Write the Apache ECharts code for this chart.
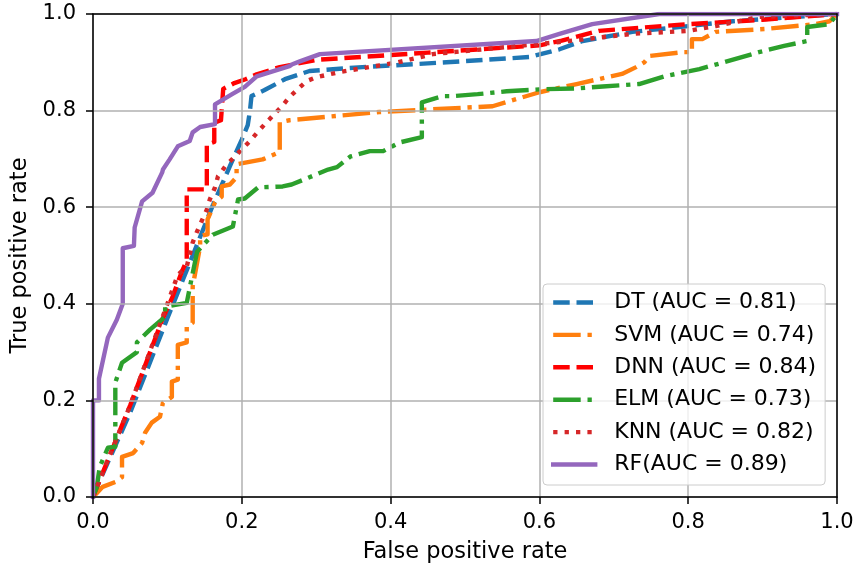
<!DOCTYPE html>
<html><head><meta charset="utf-8">
<script src="https://cdn.jsdelivr.net/npm/echarts@6/dist/echarts.min.js"></script>
<style>html,body{margin:0;padding:0;background:#fff}#c{width:857px;height:567px}</style>
</head><body><div id="c"></div><script>
// ---- data (fpr, tpr) ----
const names = ['DT (AUC = 0.81)', 'SVM (AUC = 0.74)', 'DNN (AUC = 0.84)', 'ELM (AUC = 0.73)', 'KNN (AUC = 0.82)', 'RF(AUC = 0.89)'];
const tickValues = [0, 0.2, 0.4, 0.6, 0.8, 1.0];
const tickLabels = ['0.0', '0.2', '0.4', '0.6', '0.8', '1.0'];
const xAxisName = 'False positive rate';
const yAxisName = 'True positive rate';

const dt = [[0,0],[0.005,0.02],[0.05,0.175],[0.1,0.37],[0.134,0.5],[0.16,0.6],[0.184,0.685],[0.2,0.74],[0.208,0.77],[0.211,0.8],[0.213,0.83],[0.23,0.842],[0.258,0.865],[0.291,0.882],[0.362,0.89],[0.475,0.9],[0.587,0.911],[0.627,0.927],[0.658,0.944],[0.725,0.963],[0.8,0.975],[0.86,0.985],[1,1]];
const svm = [[0,0],[0.005,0.008],[0.013,0.021],[0.03,0.031],[0.039,0.041],[0.039,0.083],[0.054,0.091],[0.066,0.112],[0.07,0.133],[0.079,0.154],[0.09,0.166],[0.094,0.195],[0.106,0.207],[0.106,0.239],[0.114,0.243],[0.114,0.315],[0.126,0.32],[0.126,0.353],[0.134,0.361],[0.134,0.436],[0.144,0.519],[0.144,0.54],[0.154,0.544],[0.154,0.575],[0.164,0.61],[0.173,0.622],[0.173,0.643],[0.184,0.647],[0.193,0.662],[0.193,0.689],[0.228,0.699],[0.251,0.714],[0.251,0.776],[0.264,0.78],[0.385,0.797],[0.537,0.809],[0.6,0.838],[0.65,0.855],[0.711,0.876],[0.73,0.89],[0.741,0.9],[0.748,0.913],[0.792,0.921],[0.805,0.921],[0.805,0.948],[0.819,0.948],[0.837,0.963],[0.904,0.969],[0.971,0.979],[0.99,0.985],[1,1]];
const dnn = [[0,0],[0.005,0.02],[0.05,0.19],[0.093,0.367],[0.107,0.415],[0.119,0.465],[0.126,0.49],[0.126,0.637],[0.153,0.637],[0.153,0.73],[0.163,0.735],[0.163,0.775],[0.172,0.78],[0.175,0.845],[0.19,0.857],[0.205,0.865],[0.22,0.875],[0.251,0.89],[0.3,0.905],[0.45,0.92],[0.6,0.935],[0.63,0.945],[0.68,0.965],[0.79,0.978],[0.9,0.988],[1,1]];
const elm = [[0,0],[0.005,0.02],[0.009,0.062],[0.02,0.102],[0.03,0.104],[0.03,0.164],[0.03,0.237],[0.039,0.278],[0.059,0.3],[0.059,0.32],[0.077,0.347],[0.097,0.373],[0.097,0.394],[0.126,0.402],[0.133,0.456],[0.14,0.508],[0.161,0.543],[0.188,0.56],[0.195,0.616],[0.204,0.618],[0.222,0.641],[0.255,0.643],[0.267,0.647],[0.291,0.662],[0.316,0.678],[0.328,0.683],[0.346,0.705],[0.372,0.716],[0.39,0.716],[0.412,0.734],[0.442,0.745],[0.442,0.817],[0.47,0.83],[0.483,0.83],[0.517,0.834],[0.556,0.84],[0.6,0.844],[0.651,0.846],[0.685,0.85],[0.734,0.855],[0.768,0.871],[0.815,0.886],[0.848,0.9],[0.895,0.921],[0.929,0.934],[0.96,0.944],[0.96,0.973],[0.99,0.979],[1,1]];
const knn = [[0,0],[0.005,0.02],[0.05,0.19],[0.1,0.4],[0.114,0.46],[0.126,0.477],[0.134,0.527],[0.14,0.55],[0.146,0.571],[0.153,0.595],[0.157,0.616],[0.164,0.641],[0.168,0.664],[0.178,0.685],[0.2,0.72],[0.211,0.737],[0.221,0.755],[0.231,0.772],[0.242,0.79],[0.254,0.809],[0.264,0.828],[0.275,0.844],[0.287,0.861],[0.3,0.869],[0.332,0.88],[0.379,0.892],[0.41,0.9],[0.457,0.917],[0.627,0.942],[0.725,0.959],[0.8,0.965],[0.837,0.975],[0.895,0.994],[1,1]];
const rf = [[0,0],[0,0.2],[0.008,0.2],[0.008,0.245],[0.02,0.33],[0.032,0.367],[0.04,0.4],[0.04,0.515],[0.055,0.52],[0.056,0.558],[0.066,0.612],[0.08,0.63],[0.093,0.672],[0.094,0.678],[0.103,0.699],[0.114,0.726],[0.13,0.737],[0.134,0.755],[0.144,0.766],[0.164,0.772],[0.164,0.813],[0.187,0.834],[0.204,0.849],[0.22,0.871],[0.264,0.892],[0.268,0.896],[0.278,0.902],[0.305,0.917],[0.596,0.944],[0.627,0.959],[0.671,0.979],[0.761,1],[1,1]];

const FONT = 'DejaVu Sans';
const LW = 4.4;
const styles = [
  {data: dt,  color: '#1f77b4', type: [16.5, 6.8], cap: 'butt'},
  {data: svm, color: '#ff7f0e', type: [27.5, 6.8, 4.3, 6.8], cap: 'butt'},
  {data: dnn, color: '#ff0000', type: [16.5, 6.8], cap: 'butt'},
  {data: elm, color: '#2ca02c', type: [27.5, 6.8, 4.3, 6.8], cap: 'butt'},
  {data: knn, color: '#d62728', type: [4.3, 7.1], cap: 'butt'},
  {data: rf,  color: '#9467bd', type: 'solid', cap: 'square'}
];

const chart = echarts.init(document.getElementById('c'), null, {renderer: 'canvas'});
const fmt = v => tickLabels[tickValues.findIndex(t => Math.abs(t - v) < 1e-9)] ?? v.toFixed(1);
const mainAxis = (name, gap, margin) => ({
  type: 'value', min: 0, max: 1, interval: 0.2,
  name: name, nameLocation: 'middle', nameGap: gap,
  nameTextStyle: {fontFamily: FONT, fontSize: 22.5, color: '#000'},
  axisLine: {show: true, onZero: false, lineStyle: {color: '#000', width: 1.5}},
  axisTick: {show: true, length: 7, lineStyle: {color: '#000', width: 1.5}},
  axisLabel: {show: true, margin: margin, fontFamily: FONT, fontSize: 21, color: '#000', formatter: fmt},
  splitLine: {show: true, lineStyle: {color: '#b0b0b0', width: 1.5}},
  z: 10
});
const sideAxis = pos => ({
  type: 'value', min: 0, max: 1, interval: 0.2, position: pos,
  axisLine: {show: true, onZero: false, lineStyle: {color: '#000', width: 1.5}},
  axisTick: {show: false}, axisLabel: {show: false}, splitLine: {show: false}, z: 10
});

chart.setOption({
  animation: false,
  backgroundColor: '#fff',
  grid: {left: 93, top: 14, width: 744, height: 483, containLabel: false, outerBoundsMode: 'none'},
  xAxis: [Object.assign(mainAxis(xAxisName, 44, 15), {position: 'bottom'}), sideAxis('top')],
  yAxis: [Object.assign(mainAxis(yAxisName, 61, 17), {position: 'left'}), sideAxis('right')],
  legend: {
    orient: 'vertical', left: 543, top: 284, z: 20,
    padding: [7, 9, 9, 8],
    itemWidth: 42, itemHeight: 23, itemGap: 9.4,
    backgroundColor: 'rgba(255,255,255,0.8)', borderColor: '#cccccc', borderWidth: 1, borderRadius: 4,
    textStyle: {fontFamily: FONT, fontSize: 22, color: '#000', lineHeight: 23, padding: [0, 0, 0, 14]},
    lineStyle: {width: LW},
    itemStyle: {color: 'rgba(0,0,0,0)', borderWidth: 0, opacity: 0},
    data: names
  },
  series: styles.map((s, i) => ({
    type: 'line', name: names[i], data: s.data,
    symbol: 'none', showSymbol: false, clip: true,
    color: s.color,
    lineStyle: {color: s.color, width: LW, type: s.type, cap: s.cap, join: 'round'},
    emphasis: {disabled: true}, z: 3 + i
  }))
});
</script></body></html>
